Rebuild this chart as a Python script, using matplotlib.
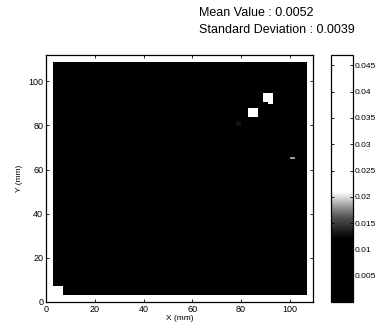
import numpy as np
import matplotlib.pyplot as plt
from matplotlib.colors import LinearSegmentedColormap

plt.rcParams['font.family'] = ['Liberation Sans', 'DejaVu Sans']

# -----------------------
# Data
# -----------------------
mean_value = 0.0052
std_value = 0.0039

x_range = [3, 107]      # mm, extent of the measured area
y_range = [3, 108.5]
base_level = 0.0052

# bright spots: centre (mm), half width (mm), value
spot_x = [91, 92, 85, 86, 5, 101, 79]
spot_y = [93, 91.5, 86, 84.5, 5, 65.5, 81]
spot_w = [1.5, 1, 1.5, 0.5, 2, 0.5, 0.5]
spot_v = [0.030, 0.026, 0.028, 0.024, 0.030, 0.018, 0.013]

x_ticks = [0, 20, 40, 60, 80, 100]
y_ticks = [0, 20, 40, 60, 80, 100]
cb_ticks = [0.005, 0.01, 0.015, 0.02, 0.025, 0.03, 0.035, 0.04, 0.045]
cb_labels = ['0.005', '0.01', '0.015', '0.02', '0.025', '0.03', '0.035', '0.04', '0.045']
vmin, vmax = 0.0, 0.047

# -----------------------
# Build the grid (1 mm cells)
# -----------------------
xs = np.arange(x_range[0], x_range[1]) + 0.5
ys = np.arange(y_range[0], y_range[1]) + 0.5
Z = np.full((len(ys), len(xs)), base_level)
for sx, sy, sw, sv in zip(spot_x, spot_y, spot_w, spot_v):
    mask_x = np.abs(xs - sx) <= sw
    mask_y = np.abs(ys - sy) <= sw
    Z[np.ix_(mask_y, mask_x)] = sv

# scanned grey map: black up to ~0.011, white from ~0.021
cmap = LinearSegmentedColormap.from_list(
    'scan_gray',
    [(0.0, 'black'), (0.012 / vmax, 'black'), (0.016 / vmax, '#505050'),
     (0.021 / vmax, 'white'), (1.0, 'white')])

# -----------------------
# Plot
# -----------------------
fig = plt.figure(figsize=(3.84, 3.31), dpi=100)
ax = fig.add_axes([0.120, 0.088, 0.695, 0.746])
im = ax.imshow(Z, origin='lower', aspect='auto', cmap=cmap, vmin=vmin, vmax=vmax,
               extent=[x_range[0], x_range[1], y_range[0], y_range[1]],
               interpolation='nearest')
ax.set_xlim(0, 109.5)
ax.set_ylim(0, 112)
ax.set_xticks(x_ticks)
ax.set_yticks(y_ticks)
ax.tick_params(direction='in', length=2.5, width=0.6, labelsize=6.5, pad=2,
               top=True, right=True)
ax.set_xlabel('X (mm)', fontsize=6, labelpad=1)
ax.set_ylabel('Y (mm)', fontsize=6, labelpad=4)
for s in ax.spines.values():
    s.set_linewidth(0.9)

cax = fig.add_axes([0.862, 0.088, 0.057, 0.746])
cb = fig.colorbar(im, cax=cax)
cb.set_ticks(cb_ticks)
cb.set_ticklabels(cb_labels)
cax.tick_params(direction='in', length=2.5, width=0.6, labelsize=6, pad=1.5, left=True)
cb.outline.set_linewidth(0.9)

fig.text(0.518, 0.962, f'Mean Value : {mean_value:.4f}', fontsize=9, va='center')
fig.text(0.518, 0.910, f'Standard Deviation : {std_value:.4f}', fontsize=9, va='center')

fig.savefig('out.png', dpi=100)
